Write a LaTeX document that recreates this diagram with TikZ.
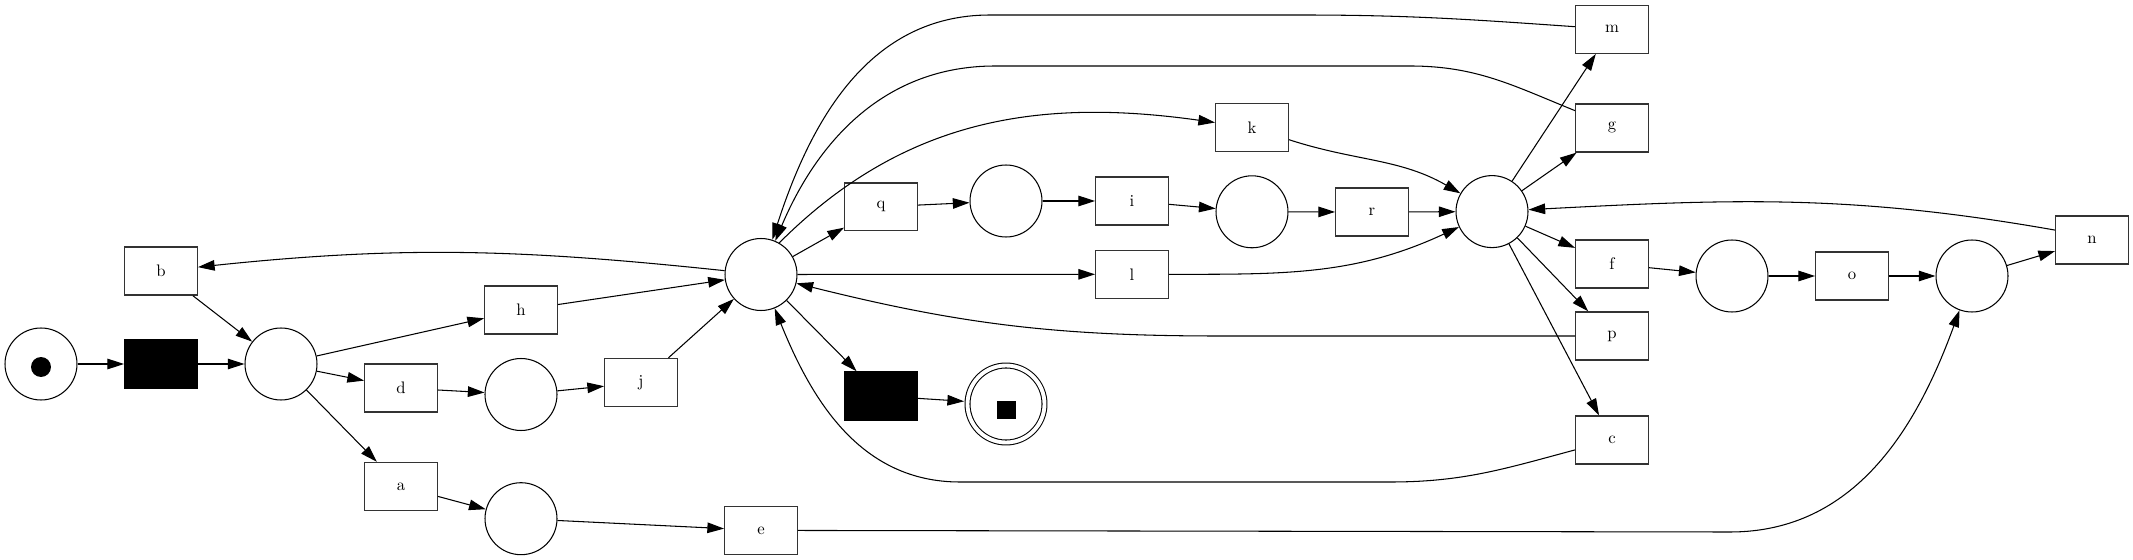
\documentclass[tikz,border=0pt]{standalone}
\usetikzlibrary{arrows.meta}

\tikzset{
  place/.style={circle, draw, line width=0.6pt, minimum size=1.44cm, inner sep=0pt},
  trans/.style={rectangle, draw=black!80, line width=0.8pt, minimum width=1.45cm,
                minimum height=0.96cm, inner sep=0pt, font=\fontsize{9.5}{11}\selectfont},
  silent/.style={trans, fill=black, draw=black},
  token/.style={circle, fill, minimum size=0.4cm, inner sep=0pt},
  endtoken/.style={rectangle, fill, minimum size=0.38cm, inner sep=0pt},
  arc/.style={-{Triangle[length=9.5pt,width=6pt]}, line width=0.6pt},
}

\begin{document}
\begin{tikzpicture}[x=0.02cm, y=-0.02cm]
\useasboundingbox (0,0) rectangle (2133,560);

% Start and first branch
\node[place] (p0) at (41,364) {};
\node[token] (tok0) at (41,367) {};
\node[silent] (tau1) at (161,364) {};
\node[place] (p1) at (281,364) {};
\node[trans] (b) at (161,271) {b};
\node[trans] (h) at (521,310) {h};
\node[trans] (d) at (401,388) {d};
\node[trans] (a) at (401,486.5) {a};
\node[place] (pd) at (521,394.5) {};
\node[place] (pa) at (521,518.7) {};
\node[trans] (j) at (641,382.5) {j};
\node[trans] (e) at (761,530.4) {e};

% Middle part
\node[place] (hub) at (761,274.5) {};
\node[trans] (q) at (881,206.8) {q};
\node[place] (pq) at (1006,201) {};
\node[trans] (i) at (1132,201) {i};
\node[place] (pi) at (1252,211.8) {};
\node[trans] (r) at (1372,212) {r};
\node[trans] (k) at (1252,127.7) {k};
\node[trans] (l) at (1132,274.3) {l};
\node[silent] (tau2) at (881,396) {};
\node[place, double, double distance=2.2pt, minimum size=1.54cm, outer sep=2pt] (pend) at (1006,404) {};
\node[endtoken] (tok1) at (1006,410) {};

% Right part
\node[place] (hub2) at (1492,211.6) {};
\node[trans] (m) at (1612,29.3) {m};
\node[trans] (g) at (1612,127.9) {g};
\node[trans] (f) at (1612,264) {f};
\node[trans] (p) at (1612,336) {p};
\node[trans] (c) at (1612,440) {c};
\node[place] (pf) at (1732,276) {};
\node[trans] (o) at (1852,276) {o};
\node[place] (po) at (1972,276) {};
\node[trans] (n) at (2092,240) {n};

% Arcs
\draw[arc] (p0) -- (tau1);
\draw[arc] (tau1) -- (p1);
\draw[arc] (b) -- (p1);
\draw[arc] (p1) -- (h);
\draw[arc] (p1) -- (d);
\draw[arc] (p1) -- (a);
\draw[arc] (d) -- (pd);
\draw[arc] (pd) -- (j);
\draw[arc] (a) -- (pa);
\draw[arc] (pa) -- (e);
\draw[arc] (h) -- (hub);
\draw[arc] (j) -- (hub);
\draw[arc] (hub) to[out=174,in=6] (b);
\draw[arc] (hub) -- (q);
\draw[arc] (q) -- (pq);
\draw[arc] (pq) -- (i);
\draw[arc] (i) -- (pi);
\draw[arc] (pi) -- (r);
\draw[arc] (r) -- (hub2);
\draw[arc] (hub.60) to[out=45,in=172] (k);
\draw[arc] (k) to[out=-18,in=150] (hub2);
\draw[arc] (hub) -- (l);
\draw[arc] (l) to[out=0,in=205] (hub2);
\draw[arc] (hub) -- (tau2);
\draw[arc] (tau2) -- (pend);
\draw[arc] (hub2) -- (m);
\draw[arc] (hub2) -- (g);
\draw[arc] (hub2) -- (f);
\draw[arc] (hub2) -- (p);
\draw[arc] (hub2) -- (c);
\draw[arc] (f) -- (pf);
\draw[arc] (pf) -- (o);
\draw[arc] (o) -- (po);
\draw[arc] (po) -- (n);
\draw[arc] (n.165) to[out=170,in=3] (hub2);
\draw[arc] (p) -- (1220,336) to[out=180,in=-14] (hub);
\draw[arc] (c) to[out=195,in=0] (1390,482) -- (960,482) to[out=180,in=-68] (hub);
\draw[arc] (m) to[out=176,in=0] (1300,15) -- (990,15) to[out=180,in=72] (hub);
\draw[arc] (g.155) to[out=158,in=0] (1410,66) -- (995,66) to[out=180,in=67] (hub);
\draw[arc] (e) -- (1730,532) to[out=0,in=-110] (po);

\end{tikzpicture}
\end{document}
